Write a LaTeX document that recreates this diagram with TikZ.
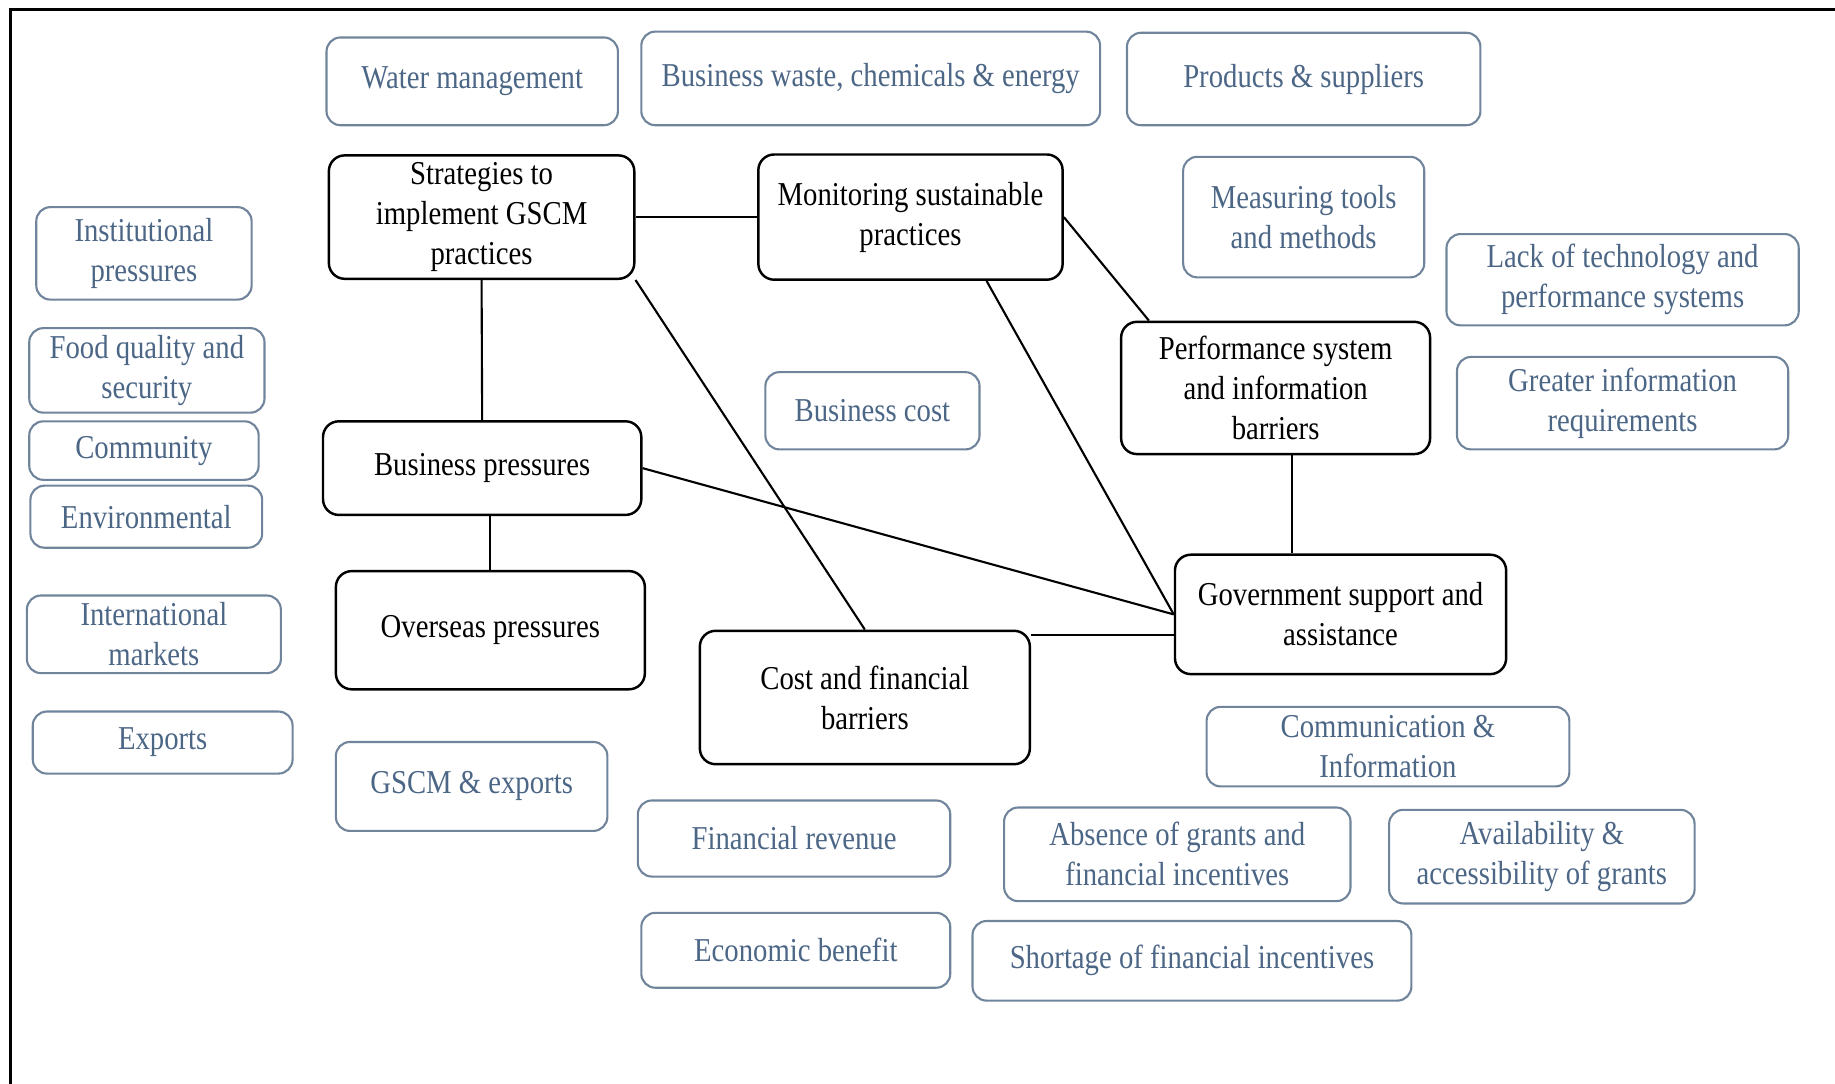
\documentclass[tikz,border=0pt]{standalone}
\usepackage{fontspec}
\setmainfont{Liberation Serif}[FakeStretch=0.86]
\usepackage{tikz}
\newcommand{\UnitPx}{0.011703cm}
\definecolor{boxtext}{RGB}{76,102,134}
\definecolor{boxline}{RGB}{112,132,155}
\tikzset{
  themebox/.style={draw=black, line width=0.7pt, rounded corners=4.5pt, align=center, inner sep=2pt},
  topicbox/.style={draw=boxline, line width=0.6pt, rounded corners=4pt, align=center, text=boxtext, inner sep=2pt},
  link/.style={line width=0.6pt}
}
\begin{document}
\begin{tikzpicture}[x=\UnitPx, y=-\UnitPx]  \fontsize{9.5}{11.4}\selectfont
\useasboundingbox (0,0) rectangle (1568,926);
% draw frame
\draw[line width=0.9pt] (9,926) -- (9,8) -- (1568,8);
% black boxes
\foreach \xa/\ya/\xb/\yb/\name/\descr in
{281/133/542/238/strat/{Strategies to\\implement GSCM\\practices},
 648/132/908/239/monit/{Monitoring sustainable\\practices},
 958/275/1222/388/perf/{Performance system\\and information\\barriers},
 276/360/548/440/bp/{Business pressures},
 287/488/551/589/os/{Overseas pressures},
 598/539/880/653/cost/{Cost and financial\\barriers},
 1004/474/1287/576/gov/{Government support and\\assistance}}
\node[themebox, minimum width={(\xb-\xa)*\UnitPx}, minimum height={(\yb-\ya)*\UnitPx}]
  (\name) at ({(\xa+\xb)/2},{(\ya+\yb)/2}) {\descr};
% blue boxes
\foreach \xa/\ya/\xb/\yb/\name/\descr in
{279/32/528/107/water/{Water management},
 548/27/940/107/waste/{Business waste, chemicals \& energy},
 963/28/1265/107/prod/{Products \& suppliers},
 1011/134/1217/237/measure/{Measuring tools\\and methods},
 1236/200/1537/278/lacktech/{Lack of technology and\\performance systems},
 1245/305/1528/384/greatinfo/{Greater information\\requirements},
 31/177/215/256/inst/{Institutional\\pressures},
 25/283/226/350/food/{Food quality and\\security},
 25/360/221/410/community/{Community},
 26/415/224/468/env/{Environmental},
 23/509/240/575/intl/{International\\markets},
 28/608/250/661/exports/{Exports},
 654/318/837/384/bcost/{Business cost},
 287/634/519/710/gscmexp/{GSCM \& exports},
 545/684/812/749/finrev/{Financial revenue},
 548/780/812/844/econ/{Economic benefit},
 1031/604/1341/672/comm/{Communication \&\\Information},
 858/690/1154/770/absence/{Absence of grants and\\financial incentives},
 1187/692/1448/772/avail/{Availability \&\\accessibility of grants},
 831/787/1206/855/shortage/{Shortage of financial incentives}}
\node[topicbox, minimum width={(\xb-\xa)*\UnitPx}, minimum height={(\yb-\ya)*\UnitPx}]
  (\name) at ({(\xa+\xb)/2},{(\ya+\yb)/2}) {\descr};
% links
\draw[link] (strat.east) -- (monit.west);
\draw[link] (strat.south) -- (bp.north);
\draw[link] (os.north |- bp.south) -- (os.north);
\draw[link] (strat.south east) -- (cost.north);
\draw[link] (monit.-40) -- (gov.west);
\draw[link] (monit.east) -- (perf.152);
\draw[link] (bp.east) -- (gov.west);
\draw[link] (perf.-76) -- (perf.-76 |- gov.north);
\draw[link] (gov.187) -- (gov.187 -| cost.east);
\end{tikzpicture}
\end{document}
